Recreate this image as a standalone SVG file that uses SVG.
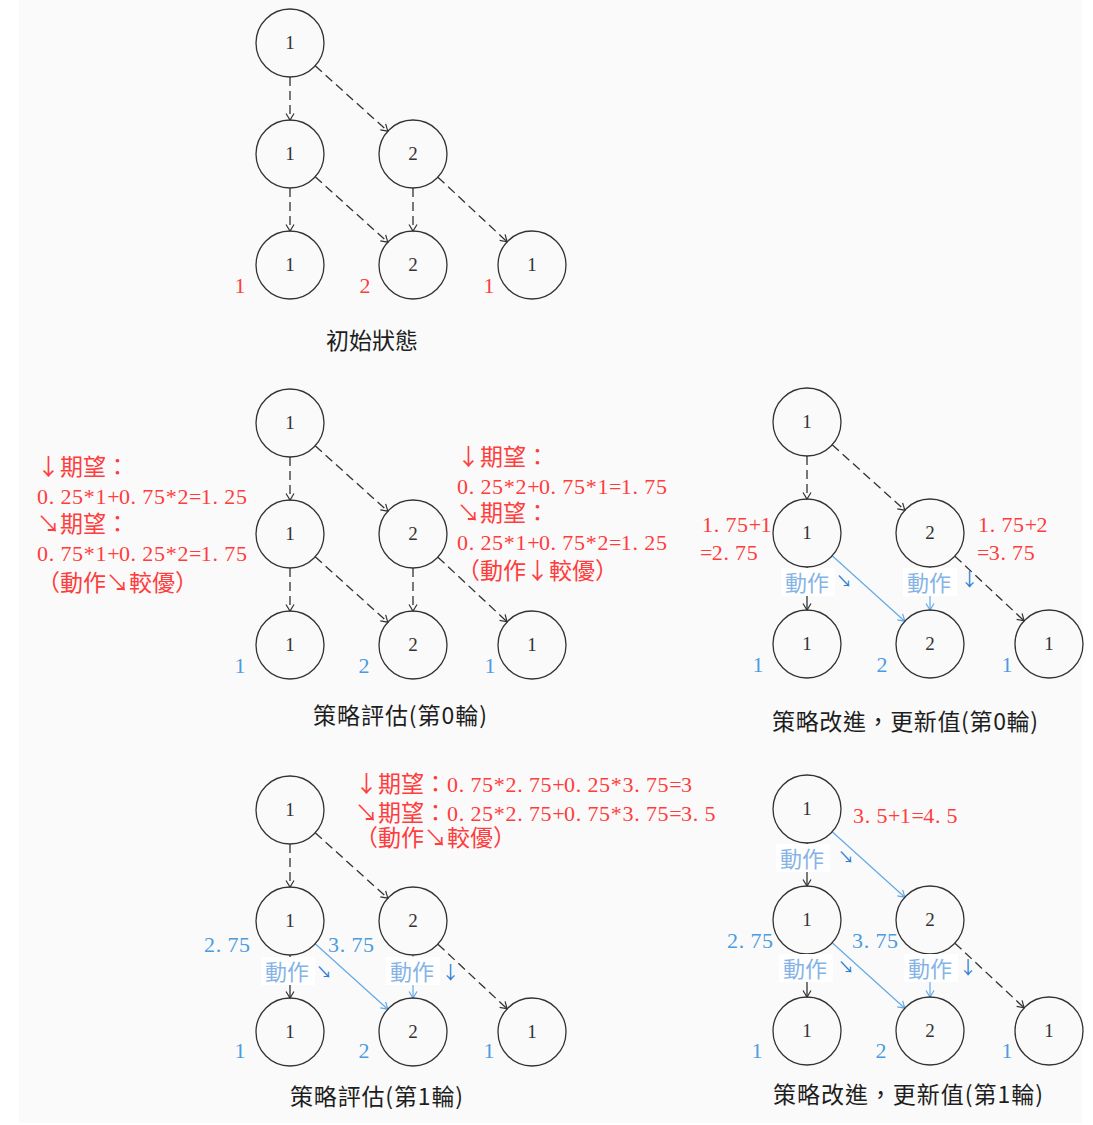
<svg xmlns="http://www.w3.org/2000/svg" width="1093" height="1125" viewBox="0 0 1093 1125">
<defs>
<style>
.nd circle{fill:none;stroke:#333;stroke-width:1.3}
.nd text{font-family:"Liberation Serif",serif;font-size:19px;fill:#333;text-anchor:middle}
.dk{fill:none;stroke:#333;stroke-width:1.3;stroke-dasharray:9 5;marker-end:url(#ak)}
.ks{fill:none;stroke:#333;stroke-width:1.3;marker-end:url(#ak)}
.bs{fill:none;stroke:#64a9e6;stroke-width:1.2;marker-end:url(#ab)}
.m{font-family:"Liberation Serif",serif;font-size:22px}
.c{font-family:"Noto Sans CJK TC","Noto Sans CJK SC",sans-serif;font-size:23px}
.r{fill:#ff3d3d}
.b{fill:#4b9ce0}
.lab{text-anchor:middle}
.act{font-family:"Noto Sans CJK TC","Noto Sans CJK SC",sans-serif;font-size:22px;fill:#86b4e6}
.ar{font-family:"Noto Sans CJK TC","Noto Sans CJK SC",sans-serif;fill:#2a7ed6;text-anchor:middle}
.cap{font-family:"Noto Sans CJK TC","Noto Sans CJK SC",sans-serif;font-size:23px;fill:#1e1e1e}
.box{fill:#ffffff}
</style>
<marker id="ak" markerUnits="userSpaceOnUse" markerWidth="14" markerHeight="14" viewBox="-8 -7 10 14" refX="0" refY="0" orient="auto" overflow="visible">
<path d="M-6.5,-4 L0,0 L-6.5,4" fill="none" stroke="#333" stroke-width="1.2"/>
</marker>
<marker id="ab" markerUnits="userSpaceOnUse" markerWidth="14" markerHeight="14" viewBox="-8 -7 10 14" refX="0" refY="0" orient="auto" overflow="visible">
<path d="M-6.5,-4 L0,0 L-6.5,4" fill="none" stroke="#64a9e6" stroke-width="1.2"/>
</marker>
</defs>
<rect x="0" y="0" width="1093" height="1125" fill="#ffffff"/>
<rect x="19" y="0" width="1063" height="1123" fill="#fafafa"/>

<!-- Diagram 1: initial state -->
<g id="d1" transform="translate(0,0)">
<g id="d1-edges">
<path class="dk" d="M290,77 L290,120"/>
<path class="dk" d="M315.2,65.8 L387.8,131.2"/>
<path class="dk" d="M290,188 L290,231"/>
<path class="dk" d="M315.2,176.8 L387.8,242.2"/>
<path class="dk" d="M413,188 L413,231"/>
<path class="dk" d="M437.9,177.2 L507.1,241.8"/>
</g>
<g id="d1-a" class="nd"><circle cx="290" cy="43" r="34"/><text x="290" y="49">1</text></g>
<g id="d1-b" class="nd"><circle cx="290" cy="154" r="34"/><text x="290" y="160">1</text></g>
<g id="d1-c" class="nd"><circle cx="413" cy="154" r="34"/><text x="413" y="160">2</text></g>
<g id="d1-d" class="nd"><circle cx="290" cy="265" r="34"/><text x="290" y="271">1</text></g>
<g id="d1-e" class="nd"><circle cx="413" cy="265" r="34"/><text x="413" y="271">2</text></g>
<g id="d1-f" class="nd"><circle cx="532" cy="265" r="34"/><text x="532" y="271">1</text></g>
</g>
<g id="d1-labels">
<text class="m r lab" x="240" y="293">1</text>
<text class="m r lab" x="365" y="293">2</text>
<text class="m r lab" x="489" y="293">1</text>
<text class="cap" x="326" y="349">初始狀態</text>
</g>

<!-- Diagram 2: policy evaluation round 0 -->
<g id="d2" transform="translate(0,380)">
<g id="d2-edges">
<path class="dk" d="M290,77 L290,120"/>
<path class="dk" d="M315.2,65.8 L387.8,131.2"/>
<path class="dk" d="M290,188 L290,231"/>
<path class="dk" d="M315.2,176.8 L387.8,242.2"/>
<path class="dk" d="M413,188 L413,231"/>
<path class="dk" d="M437.9,177.2 L507.1,241.8"/>
</g>
<g id="d2-a" class="nd"><circle cx="290" cy="43" r="34"/><text x="290" y="49">1</text></g>
<g id="d2-b" class="nd"><circle cx="290" cy="154" r="34"/><text x="290" y="160">1</text></g>
<g id="d2-c" class="nd"><circle cx="413" cy="154" r="34"/><text x="413" y="160">2</text></g>
<g id="d2-d" class="nd"><circle cx="290" cy="265" r="34"/><text x="290" y="271">1</text></g>
<g id="d2-e" class="nd"><circle cx="413" cy="265" r="34"/><text x="413" y="271">2</text></g>
<g id="d2-f" class="nd"><circle cx="532" cy="265" r="34"/><text x="532" y="271">1</text></g>
</g>
<g id="d2-labels">
<text class="c r" x="37" y="475">↓期望：</text>
<text class="m r" x="37 48.7 60.4 72.1 83.8 95.5 107.2 118.9 130.6 142.3 154 165.7 177.4 189.1 200.8 212.5 224.2 235.9" y="504">0.25*1+0.75*2=1.25</text>
<text class="c r" x="37" y="532">↘期望：</text>
<text class="m r" x="37 48.7 60.4 72.1 83.8 95.5 107.2 118.9 130.6 142.3 154 165.7 177.4 189.1 200.8 212.5 224.2 235.9" y="561">0.75*1+0.25*2=1.75</text>
<text class="c r" x="37" y="591">（動作↘較優）</text>
<text class="c r" x="457" y="465">↓期望：</text>
<text class="m r" x="457 468.7 480.4 492.1 503.8 515.5 527.2 538.9 550.6 562.3 574 585.7 597.4 609.1 620.8 632.5 644.2 655.9" y="494">0.25*2+0.75*1=1.75</text>
<text class="c r" x="457" y="521">↘期望：</text>
<text class="m r" x="457 468.7 480.4 492.1 503.8 515.5 527.2 538.9 550.6 562.3 574 585.7 597.4 609.1 620.8 632.5 644.2 655.9" y="550">0.25*1+0.75*2=1.25</text>
<text class="c r" x="457" y="579">（動作↓較優）</text>
<text class="m b lab" x="240" y="673">1</text>
<text class="m b lab" x="364" y="673">2</text>
<text class="m b lab" x="490" y="673">1</text>
<text class="cap" x="313" y="724" textLength="174" lengthAdjust="spacing">策略評估(第0輪)</text>
</g>

<!-- Diagram 3: policy improvement round 0 -->
<g id="d3" transform="translate(517,379)">
<g id="d3-edges">
<path class="dk" d="M290,77 L290,120"/>
<path class="dk" d="M315.2,65.8 L387.8,131.2"/>
<path class="ks" d="M290,188 L290,231"/>
<path class="bs" d="M413,188 L413,231"/>
<path class="bs" d="M315.2,176.8 L387.8,242.2"/>
<path class="dk" d="M437.9,177.2 L507.1,241.8"/>
</g>
<g id="d3-a" class="nd"><circle cx="290" cy="43" r="34"/><text x="290" y="49">1</text></g>
<g id="d3-b" class="nd"><circle cx="290" cy="154" r="34"/><text x="290" y="160">1</text></g>
<g id="d3-c" class="nd"><circle cx="413" cy="154" r="34"/><text x="413" y="160">2</text></g>
<g id="d3-d" class="nd"><circle cx="290" cy="265" r="34"/><text x="290" y="271">1</text></g>
<g id="d3-e" class="nd"><circle cx="413" cy="265" r="34"/><text x="413" y="271">2</text></g>
<g id="d3-f" class="nd"><circle cx="532" cy="265" r="34"/><text x="532" y="271">1</text></g>
</g>
<g id="d3-labels">
<text class="m r" x="702 713.7 725.4 737.1 748.8 760.5" y="532">1.75+1</text>
<text class="m r" x="700 711.7 723.4 735.1 746.8" y="560">=2.75</text>
<text class="m r" x="978 989.7 1001.4 1013.1 1024.8 1036.5" y="532">1.75+2</text>
<text class="m r" x="977 988.7 1000.4 1012.1 1023.8" y="560">=3.75</text>
<rect class="box" x="781" y="568" width="54" height="28"/>
<text class="act" x="785" y="591">動作</text>
<text class="ar" x="844" y="587" font-size="16">↘</text>
<rect class="box" x="903" y="568" width="54" height="28"/>
<text class="act" x="907" y="591">動作</text>
<text class="ar" x="969.5" y="586" font-size="18">↓</text>
<text class="m b lab" x="758" y="672">1</text>
<text class="m b lab" x="882" y="672">2</text>
<text class="m b lab" x="1007" y="672">1</text>
<text class="cap" x="772" y="730" textLength="266" lengthAdjust="spacing">策略改進，更新值(第0輪)</text>
</g>

<!-- Diagram 4: policy evaluation round 1 -->
<g id="d4" transform="translate(0,767)">
<g id="d4-edges">
<path class="dk" d="M290,77 L290,120"/>
<path class="dk" d="M315.2,65.8 L387.8,131.2"/>
<path class="ks" d="M290,188 L290,231"/>
<path class="bs" d="M413,188 L413,231"/>
<path class="bs" d="M315.2,176.8 L387.8,242.2"/>
<path class="dk" d="M437.9,177.2 L507.1,241.8"/>
</g>
<g id="d4-a" class="nd"><circle cx="290" cy="43" r="34"/><text x="290" y="49">1</text></g>
<g id="d4-b" class="nd"><circle cx="290" cy="154" r="34"/><text x="290" y="160">1</text></g>
<g id="d4-c" class="nd"><circle cx="413" cy="154" r="34"/><text x="413" y="160">2</text></g>
<g id="d4-d" class="nd"><circle cx="290" cy="265" r="34"/><text x="290" y="271">1</text></g>
<g id="d4-e" class="nd"><circle cx="413" cy="265" r="34"/><text x="413" y="271">2</text></g>
<g id="d4-f" class="nd"><circle cx="532" cy="265" r="34"/><text x="532" y="271">1</text></g>
</g>
<g id="d4-labels">
<text class="c r" x="355" y="792">↓期望：</text>
<text class="m r" x="447 458.7 470.4 482.1 493.8 505.5 517.2 528.9 540.6 552.3 564 575.7 587.4 599.1 610.8 622.5 634.2 645.9 657.6 669.3 681" y="792">0.75*2.75+0.25*3.75=3</text>
<text class="c r" x="355" y="821">↘期望：</text>
<text class="m r" x="447 458.7 470.4 482.1 493.8 505.5 517.2 528.9 540.6 552.3 564 575.7 587.4 599.1 610.8 622.5 634.2 645.9 657.6 669.3 681 692.7 704.4" y="821">0.25*2.75+0.75*3.75=3.5</text>
<text class="c r" x="355" y="846">（動作↘較優）</text>
<text class="m b" x="204 215.7 227.4 239.1" y="952">2.75</text>
<text class="m b" x="328 339.7 351.4 363.1" y="952">3.75</text>
<rect class="box" x="261" y="957" width="54" height="28"/>
<text class="act" x="265" y="980">動作</text>
<text class="ar" x="324" y="978" font-size="16">↘</text>
<rect class="box" x="386" y="957" width="54" height="28"/>
<text class="act" x="390" y="980">動作</text>
<text class="ar" x="450.5" y="978.5" font-size="18">↓</text>
<text class="m b lab" x="240" y="1058">1</text>
<text class="m b lab" x="364" y="1058">2</text>
<text class="m b lab" x="489" y="1058">1</text>
<text class="cap" x="290" y="1105" textLength="173" lengthAdjust="spacing">策略評估(第1輪)</text>
</g>

<!-- Diagram 5: policy improvement round 1 -->
<g id="d5" transform="translate(517,766)">
<g id="d5-edges">
<path class="ks" d="M290,77 L290,120"/>
<path class="bs" d="M315.2,65.8 L387.8,131.2"/>
<path class="ks" d="M290,188 L290,231"/>
<path class="bs" d="M413,188 L413,231"/>
<path class="bs" d="M315.2,176.8 L387.8,242.2"/>
<path class="dk" d="M437.9,177.2 L507.1,241.8"/>
</g>
<g id="d5-a" class="nd"><circle cx="290" cy="43" r="34"/><text x="290" y="49">1</text></g>
<g id="d5-b" class="nd"><circle cx="290" cy="154" r="34"/><text x="290" y="160">1</text></g>
<g id="d5-c" class="nd"><circle cx="413" cy="154" r="34"/><text x="413" y="160">2</text></g>
<g id="d5-d" class="nd"><circle cx="290" cy="265" r="34"/><text x="290" y="271">1</text></g>
<g id="d5-e" class="nd"><circle cx="413" cy="265" r="34"/><text x="413" y="271">2</text></g>
<g id="d5-f" class="nd"><circle cx="532" cy="265" r="34"/><text x="532" y="271">1</text></g>
</g>
<g id="d5-labels">
<text class="m r" x="853 864.7 876.4 888.1 899.8 911.5 923.2 934.9 946.6" y="823">3.5+1=4.5</text>
<rect class="box" x="776" y="844" width="54" height="28"/>
<text class="act" x="780" y="867">動作</text>
<text class="ar" x="846" y="863" font-size="16">↘</text>
<text class="m b" x="727 738.7 750.4 762.1" y="948">2.75</text>
<text class="m b" x="852 863.7 875.4 887.1" y="948">3.75</text>
<rect class="box" x="779" y="954" width="54" height="28"/>
<text class="act" x="783" y="977">動作</text>
<text class="ar" x="846" y="973" font-size="16">↘</text>
<rect class="box" x="904" y="954" width="54" height="28"/>
<text class="act" x="908" y="977">動作</text>
<text class="ar" x="968" y="973.5" font-size="18">↓</text>
<text class="m b lab" x="757" y="1058">1</text>
<text class="m b lab" x="881" y="1058">2</text>
<text class="m b lab" x="1007" y="1058">1</text>
<text class="cap" x="773" y="1103" textLength="270" lengthAdjust="spacing">策略改進，更新值(第1輪)</text>
</g>
</svg>
